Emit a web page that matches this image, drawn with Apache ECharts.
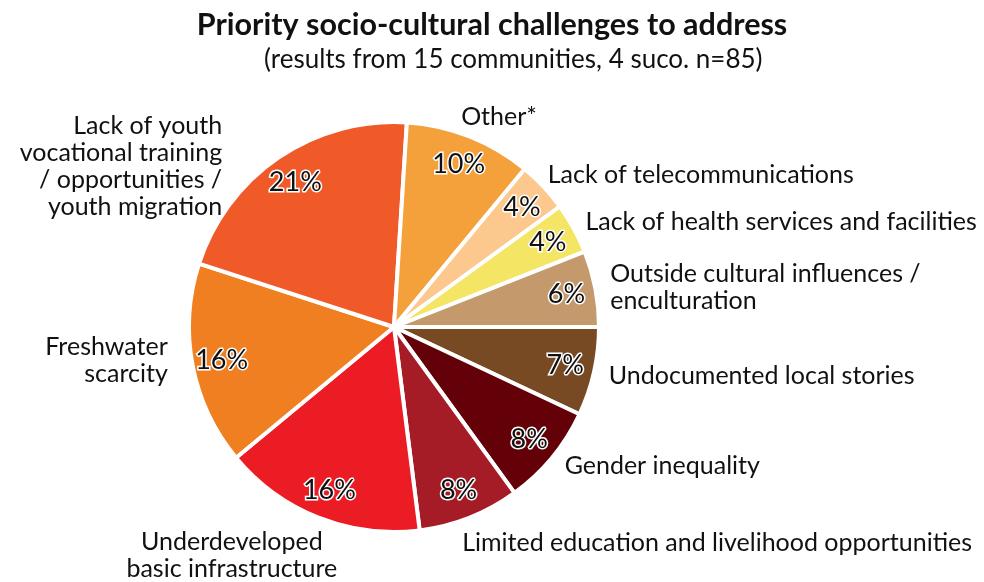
<!DOCTYPE html>
<html>
<head>
<meta charset="utf-8">
<script src="https://cdn.jsdelivr.net/npm/echarts@6/dist/echarts.min.js"></script>
<style>
  html, body { margin: 0; padding: 0; background: #ffffff; }
  #chart { width: 984px; height: 582px; }
</style>
</head>
<body>
<div id="chart"></div>
<script>
// Challenge categories, listed clockwise from 3 o'clock
const categories = [
  'Undocumented local stories',
  'Gender inequality',
  'Limited education and livelihood opportunities',
  'Underdeveloped\nbasic infrastructure',
  'Freshwater\nscarcity',
  'Lack of youth\nvocational training\n/ opportunities /\nyouth migration',
  'Other*',
  'Lack of telecommunications',
  'Lack of health services and facilities',
  'Outside cultural influences /\nenculturation'
];
// Share of responses (%)
const shares = [7, 8, 8, 16, 16, 21, 10, 4, 4, 6];

const sliceColors = [
  '#774a23', '#640007', '#a51c26', '#ec1c24', '#f07f22',
  '#f05a29', '#f4a13c', '#fcc88d', '#f5e565', '#c49a6c'
];

// label nudges and text alignment for the outer category names
const labelTweaks = [
  { dx: 0, dy: 2, align: 'left' },
  { dx: 0, dy: 2, align: 'left' },
  { dx: -16, dy: 16, align: 'left' },
  { dx: -78, dy: 29, align: 'center' },
  { dx: -10, dy: -7, align: 'right' },
  { dx: -46, dy: 17, align: 'right' },
  { dx: -17, dy: -10, align: 'left' },
  { dx: -8, dy: -5, align: 'left' },
  { dx: -2, dy: -1, align: 'left' },
  { dx: 0, dy: 1, align: 'left' }
];

const FONT = 'Lato, "Open Sans", sans-serif';
const pieData = categories.map((name, i) => ({
  name: name,
  value: shares[i],
  itemStyle: { color: sliceColors[i] },
  label: { align: labelTweaks[i].align }
}));

const chart = echarts.init(document.getElementById('chart'), null, { renderer: 'canvas' });
chart.setOption({
  backgroundColor: '#ffffff',
  animation: false,
  title: [
    {
      text: 'Priority socio-cultural challenges to address',
      left: 'center',
      top: 5,
      textStyle: { fontFamily: FONT, fontWeight: 'bold', fontSize: 30.5, color: '#111111' }
    },
    {
      text: '(results from 15 communities, 4 suco. n=85)',
      left: 259,
      top: 42,
      textStyle: { fontFamily: FONT, fontWeight: 'normal', fontSize: 26, color: '#111111' }
    }
  ],
  series: [
    {
      type: 'pie',
      center: [394, 327],
      radius: 205,
      startAngle: 0,
      clockwise: true,
      avoidLabelOverlap: false,
      silent: true,
      itemStyle: { borderColor: '#ffffff', borderWidth: 4 },
      label: {
        show: true,
        position: 'outside',
        alignTo: 'none',
        formatter: '{b}',
        fontFamily: FONT,
        fontSize: 25,
        lineHeight: 27,
        color: '#111111',
        distanceToLabelLine: 5
      },
      labelLine: { show: false, length: 10, length2: 0 },
      labelLayout: function (params) {
        const t = labelTweaks[params.dataIndex];
        return { dx: t.dx, dy: t.dy, align: t.align };
      },
      data: pieData
    },
    {
      type: 'pie',
      center: [394, 327],
      radius: [140, 205],
      startAngle: 0,
      clockwise: true,
      silent: true,
      itemStyle: { color: 'rgba(0,0,0,0)' },
      label: {
        show: true,
        position: 'inside',
        formatter: '{c}%',
        fontFamily: FONT,
        fontSize: 27,
        color: '#111111',
        textBorderColor: '#ffffff',
        textBorderWidth: 3
      },
      labelLine: { show: false },
      data: categories.map((name, i) => ({ name: name, value: shares[i] }))
    }
  ]
});
</script>
</body>
</html>
